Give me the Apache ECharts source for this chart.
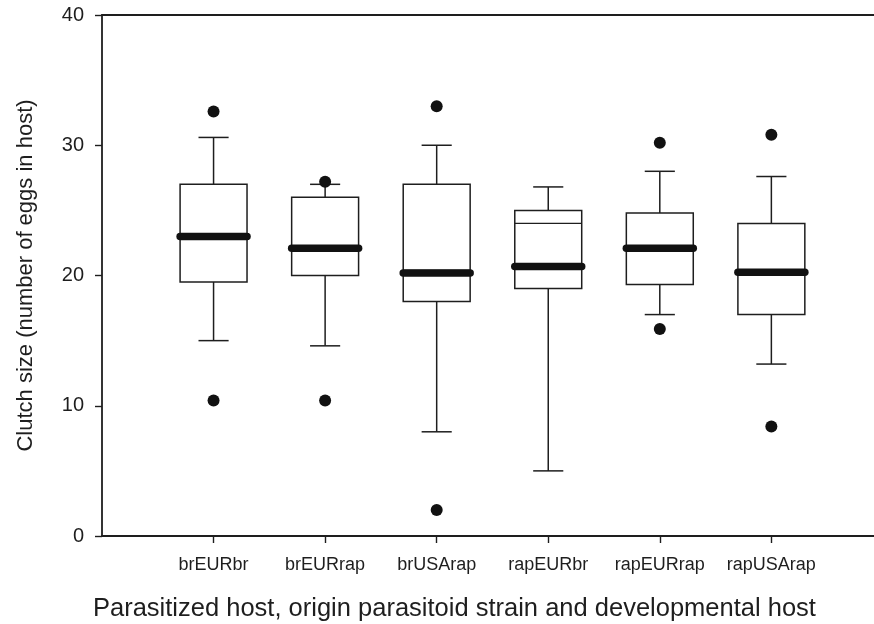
<!DOCTYPE html>
<html>
<head>
<meta charset="utf-8">
<script src="https://cdn.jsdelivr.net/npm/echarts@6/dist/echarts.min.js"></script>
<style>html,body{margin:0;padding:0;background:#fff;}#c{width:874px;height:624px;}</style>
</head>
<body>
<div id="c"></div>
<script>
const categories = ['brEURbr','brEURrap','brUSArap','rapEURbr','rapEURrap','rapUSArap'];
const whiskerLow  = [15.0, 14.6, 8.0, 5.0, 17.0, 13.2];
const q1          = [19.5, 20.0, 18.0, 19.0, 19.3, 17.0];
const median      = [23.0, 22.0, 20.4, 24.0, 22.1, 20.4];
const q3          = [27.0, 26.0, 27.0, 25.0, 24.8, 24.0];
const whiskerHigh = [30.6, 27.0, 30.0, 26.8, 28.0, 27.6];
const mean        = [23.0, 22.1, 20.2, 20.7, 22.1, 20.25];
const outliers = [[0,32.6],[0,10.4],[1,27.2],[1,10.4],[2,33.0],[2,2.0],[4,30.2],[4,15.9],[5,30.8],[5,8.4]];
const yTicks = [0,10,20,30,40];

const FONT = 'Liberation Sans, Arial, sans-serif';
const INK = '#1e1e1e';
const positions = categories.map((c,i)=>i+1);
const boxData = categories.map((c,i)=>[i+1, whiskerLow[i], q1[i], median[i], q3[i], whiskerHigh[i], mean[i]]);

const chart = echarts.init(document.getElementById('c'));
chart.setOption({
  animation:false,
  backgroundColor:'#fff',
  title:{
    text:'Parasitized host, origin parasitoid strain and developmental host',
    left:88, top:591,
    textStyle:{fontFamily:FONT, fontSize:25.5, fontWeight:'normal', color:INK}
  },
  grid:{left:102, top:15, right:0, height:521},
  xAxis:[{
    type:'value', min:0, max:6.92,
    axisLine:{show:true, onZero:false, lineStyle:{color:INK, width:1.8}},
    axisTick:{show:true, length:7, customValues:positions, lineStyle:{color:INK, width:1.4}},
    axisLabel:{show:true, customValues:positions, margin:20, formatter:v=>categories[Math.round(v)-1]||'',
      fontFamily:FONT, fontSize:18, color:INK},
    splitLine:{show:false}
  },{
    type:'value', min:0, max:6.92, position:'top',
    axisLine:{show:true, onZero:false, lineStyle:{color:INK, width:1.8}},
    axisTick:{show:false}, axisLabel:{show:false}, splitLine:{show:false}
  }],
  yAxis:{
    type:'value', min:0, max:40, interval:10,
    name:'Clutch size (number of eggs in host)', nameLocation:'middle', nameGap:65,
    nameTextStyle:{fontFamily:FONT, fontSize:22, color:INK},
    axisLine:{show:true, onZero:false, lineStyle:{color:INK, width:1.8}},
    axisTick:{show:true, length:7, customValues:yTicks, lineStyle:{color:INK, width:1.4}},
    axisLabel:{customValues:yTicks, margin:18, fontFamily:FONT, fontSize:20, color:INK},
    splitLine:{show:false}
  },
  series:[{
    type:'custom',
    data:boxData,
    encode:{x:0, y:[1,2,3,4,5,6]},
    renderItem:function(params, api){
      const x = api.value(0);
      const unit = api.size([1,0])[0];
      const bw = unit*0.6, cw = unit*0.27;
      const pLo = api.coord([x, api.value(1)]);
      const pQ1 = api.coord([x, api.value(2)]);
      const pMed = api.coord([x, api.value(3)]);
      const pQ3 = api.coord([x, api.value(4)]);
      const pHi = api.coord([x, api.value(5)]);
      const pMean = api.coord([x, api.value(6)]);
      const cx = pLo[0];
      const ls = {stroke:INK, lineWidth:1.5};
      return {type:'group', children:[
        {type:'line', shape:{x1:cx,y1:pLo[1],x2:cx,y2:pQ1[1]}, style:ls},
        {type:'line', shape:{x1:cx,y1:pQ3[1],x2:cx,y2:pHi[1]}, style:ls},
        {type:'line', shape:{x1:cx-cw/2,y1:pLo[1],x2:cx+cw/2,y2:pLo[1]}, style:ls},
        {type:'line', shape:{x1:cx-cw/2,y1:pHi[1],x2:cx+cw/2,y2:pHi[1]}, style:ls},
        {type:'rect', shape:{x:cx-bw/2, y:pQ3[1], width:bw, height:pQ1[1]-pQ3[1]}, style:{fill:'#fff', stroke:INK, lineWidth:1.5}},
        {type:'line', shape:{x1:cx-bw/2,y1:pMed[1],x2:cx+bw/2,y2:pMed[1]}, style:{stroke:INK, lineWidth:1.3}},
        {type:'line', shape:{x1:cx-bw/2,y1:pMean[1],x2:cx+bw/2,y2:pMean[1]}, style:{stroke:'#111', lineWidth:7.5, lineCap:'round'}}
      ]};
    },
    z:2
  },{
    type:'scatter',
    data:outliers.map(o=>[o[0]+1, o[1]]),
    symbol:'circle', symbolSize:12,
    itemStyle:{color:'#111', opacity:1},
    z:3
  }]
});
</script>
</body>
</html>
